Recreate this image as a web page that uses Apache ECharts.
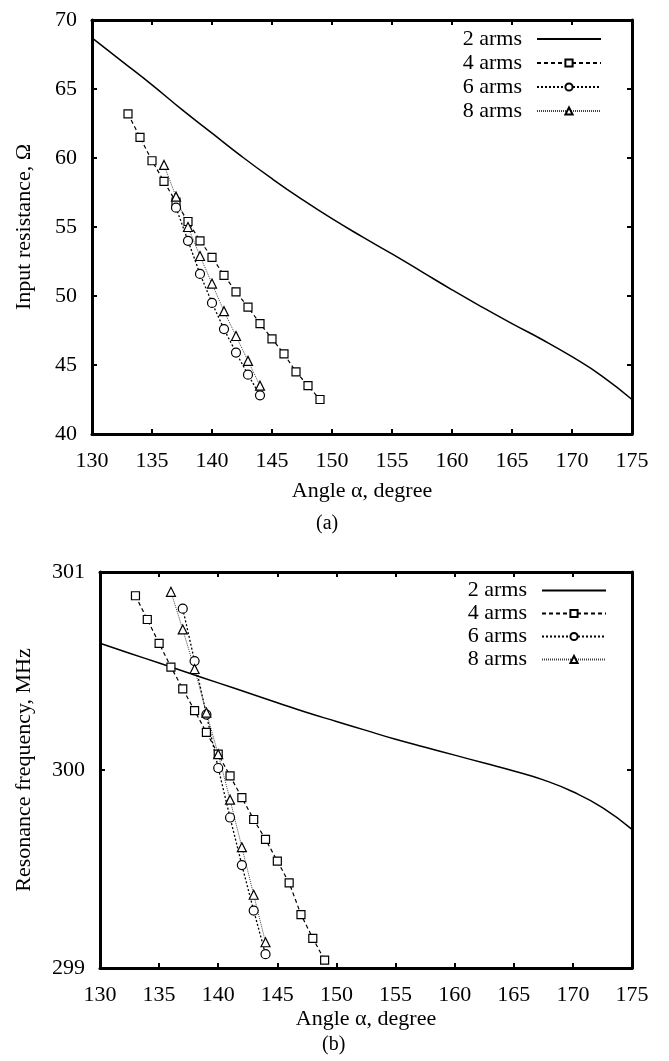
<!DOCTYPE html>
<html>
<head>
<meta charset="utf-8">
<script src="https://cdn.jsdelivr.net/npm/echarts@6/dist/echarts.min.js"></script>
<style>
html,body{margin:0;padding:0;background:#fff;}
#chart{width:669px;height:1061px;}
</style>
</head>
<body>
<div id="chart"></div>
<script>
// ---------- data ----------
const seriesNames = ['2 arms', '4 arms', '6 arms', '8 arms'];

// (a) input resistance, Ohm
const angle2a = [130,132.5,135,137.5,140,142.5,145,147.5,150,152.5,155,157.5,160,162.5,165,167.5,170,172.5,175];
const res2 = [68.7,67.0,65.3,63.5,61.8,60.1,58.5,57.0,55.6,54.3,53.05,51.75,50.45,49.2,48.0,46.85,45.6,44.2,42.5];
const angle4 = [133,134,135,136,137,138,139,140,141,142,143,144,145,146,147,148,149];
const res4 = [63.2,61.5,59.8,58.3,56.8,55.4,54.0,52.8,51.5,50.3,49.2,48.0,46.9,45.8,44.5,43.5,42.5];
const angle6 = [137,138,139,140,141,142,143,144];
const res6 = [56.4,54.0,51.6,49.5,47.6,45.9,44.3,42.8];
const angle8 = [136,137,138,139,140,141,142,143,144];
const res8 = [59.5,57.2,55.0,52.9,50.9,48.9,47.1,45.3,43.5];

// (b) resonance frequency, MHz
const freq2 = [300.64,300.59,300.54,300.49,300.44,300.39,300.34,300.29,300.245,300.20,300.155,300.115,300.075,300.035,299.995,299.95,299.89,299.81,299.70];
const freq4 = [300.88,300.76,300.64,300.52,300.41,300.30,300.19,300.08,299.97,299.86,299.75,299.65,299.54,299.43,299.27,299.15,299.04];
const freq6 = [300.815,300.55,300.28,300.01,299.76,299.52,299.29,299.07];
const freq8 = [300.90,300.71,300.51,300.29,300.08,299.85,299.61,299.37,299.13];

// tick ranges
const xTicks = [130,135,140,145,150,155,160,165,170,175];
const yTicksA = [40,45,50,55,60,65,70];
const yTicksB = [299,300,301];

// ---------- options ----------
const FONT = 'Liberation Serif';
const BLACK = '#000';

function zip(xs, ys){ return xs.map((x,i)=>[x, ys[i]]); }

function xAxisDef(grid, pos, labels, name, gap){
  return {
    type:'value', gridIndex:grid, position:pos,
    min:xTicks[0], max:xTicks[xTicks.length-1], interval:5,
    axisLine:{show:true, onZero:false, lineStyle:{color:BLACK, width:3}},
    axisTick:{show:true, inside:true, length:5, lineStyle:{color:BLACK, width:2}},
    axisLabel:{show:labels, margin:16, fontFamily:FONT, fontSize:22, color:BLACK},
    splitLine:{show:false},
    name: name || '', nameLocation:'middle', nameGap:gap || 44,
    nameTextStyle:{fontFamily:FONT, fontSize:22, color:BLACK}
  };
}
function yAxisDef(grid, pos, ticks, labels, name, gap){
  return {
    type:'value', gridIndex:grid, position:pos,
    min:ticks[0], max:ticks[ticks.length-1], interval:ticks[1]-ticks[0],
    axisLine:{show:true, onZero:false, lineStyle:{color:BLACK, width:3}},
    axisTick:{show:true, inside:true, length:5, lineStyle:{color:BLACK, width:2}},
    axisLabel:{show:labels, margin:15, fontFamily:FONT, fontSize:22, color:BLACK},
    splitLine:{show:false},
    name: name || '', nameLocation:'middle', nameGap:gap || 40, nameRotate:90,
    nameTextStyle:{fontFamily:FONT, fontSize:22, color:BLACK}
  };
}

const markerStyle = {color:'#fff', borderColor:BLACK, borderWidth:1.2};

function makeSeries(grid, ys2, ys4, ys6, ys8){
  const xi = grid*2, yi = grid*2;
  return [
    {name:seriesNames[0], type:'line', xAxisIndex:xi, yAxisIndex:yi,
     data:zip(angle2a, ys2), smooth:0.5, symbol:'none',
     lineStyle:{color:BLACK, width:1.5, type:'solid'}, itemStyle:{color:BLACK}, animation:false, z:3},
    {name:seriesNames[1], type:'line', xAxisIndex:xi, yAxisIndex:yi,
     data:zip(angle4, ys4), symbol:'rect', symbolSize:8,
     lineStyle:{color:BLACK, width:1.2, type:[4,3]}, itemStyle:markerStyle, animation:false, z:4},
    {name:seriesNames[2], type:'line', xAxisIndex:xi, yAxisIndex:yi,
     data:zip(angle6, ys6), symbol:'circle', symbolSize:9,
     lineStyle:{color:BLACK, width:1.3, type:[2,2]}, itemStyle:markerStyle, animation:false, z:4},
    {name:seriesNames[3], type:'line', xAxisIndex:xi, yAxisIndex:yi,
     data:zip(angle8, ys8), symbol:'triangle', symbolSize:9,
     lineStyle:{color:'#444', width:1, type:[1,1]}, itemStyle:markerStyle, animation:false, z:4}
  ];
}

function legendDef(top, right, lh){
  return {
    orient:'vertical', top:top, right:right, align:'right',
    itemWidth:64, itemHeight:9, itemGap:0,
    data:[
      {name:seriesNames[0], itemStyle:{opacity:0}},
      seriesNames[1], seriesNames[2], seriesNames[3]
    ],
    textStyle:{fontFamily:FONT, fontSize:22, color:BLACK, lineHeight:lh, padding:[0,10,0,0]},
    selectedMode:false
  };
}

const option = {
  backgroundColor:'#fff',
  animation:false,
  grid:[
    {left:92, top:20, width:540, height:414, containLabel:false},
    {left:100, top:572, width:532, height:396, containLabel:false}
  ],
  xAxis:[
    xAxisDef(0,'bottom',true,'Angle α, degree',46),
    xAxisDef(0,'top',false),
    xAxisDef(1,'bottom',true,'Angle α, degree',40),
    xAxisDef(1,'top',false)
  ],
  yAxis:[
    yAxisDef(0,'left',yTicksA,true,'Input resistance, Ω',57),
    yAxisDef(0,'right',yTicksA,false),
    yAxisDef(1,'left',yTicksB,true,'Resonance frequency, MHz',65),
    yAxisDef(1,'right',yTicksB,false)
  ],
  legend:[legendDef(22,62,24), legendDef(574,57,23)],
  series:[].concat(makeSeries(0,res2,res4,res6,res8), makeSeries(1,freq2,freq4,freq6,freq8)),
  graphic:[
    {type:'text', left:316, top:514, style:{text:'(a)', font:'20px "Liberation Serif"', fill:BLACK}},
    {type:'text', left:322, top:1035, style:{text:'(b)', font:'20px "Liberation Serif"', fill:BLACK}}
  ]
};

const chart = echarts.init(document.getElementById('chart'), null, {renderer:'canvas'});
chart.setOption(option);
</script>
</body>
</html>
